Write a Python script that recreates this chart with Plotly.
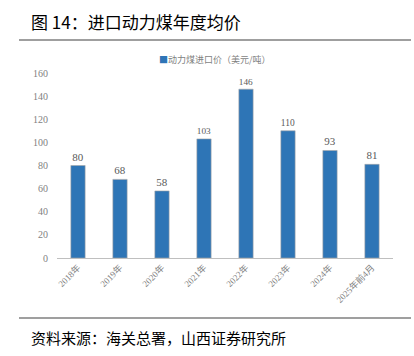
import plotly.graph_objects as go

categories = ["2018年", "2019年", "2020年", "2021年", "2022年", "2023年", "2024年", "2025年前4月"]
values = [80, 68, 58, 103, 146, 110, 93, 81]
series_name = "动力煤进口价（美元/吨）"
title_text = "图 14：进口动力煤年度均价"
source_text = "资料来源：海关总署，山西证券研究所"

W, H = 414, 356
L, R, T, B = 57, 393, 73, 258
BAR_COLOR = "#2E75B6"

def px(x):
    return (x - L) / (R - L)

def py(y):
    return (B - y) / (B - T)

fig = go.Figure()
fig.add_trace(go.Bar(
    x=categories, y=values, name=series_name,
    marker=dict(color=BAR_COLOR, line=dict(color="#A6A6A6", width=0.6)),
    text=[str(v) for v in values], textposition="outside",
    textfont=dict(family="Liberation Serif, serif", size=11, color="#595959"),
    cliponaxis=False,
))

fig.update_layout(
    width=W, height=H,
    margin=dict(l=L, r=W - R, t=T, b=H - B, autoexpand=False),
    paper_bgcolor="white", plot_bgcolor="white",
    bargap=0.66,
    showlegend=False,
    xaxis=dict(showline=True, linecolor="#BFBFBF", linewidth=1, ticks="", automargin=False,
               tickangle=-45, tickfont=dict(family="Liberation Serif, Noto Sans CJK SC", size=9, color="#7F7F7F"),
               showgrid=False, zeroline=False),
    yaxis=dict(range=[0, 160], dtick=20, showgrid=False, zeroline=False, showline=False, automargin=False,
               tickfont=dict(family="Liberation Serif, serif", size=10, color="#7F7F7F"),
               ticks="", ticklabelstandoff=8),
    font=dict(family="Noto Sans CJK SC"),
)

fig.add_annotation(text="<span style='color:%s'>■</span>%s" % (BAR_COLOR, series_name),
                   xref="paper", yref="paper", x=px(215), y=py(59),
                   xanchor="center", yanchor="middle", showarrow=False,
                   font=dict(family="Noto Sans CJK SC", size=9, color="#7F7F7F"))
fig.add_annotation(text=title_text, xref="paper", yref="paper", x=px(29), y=py(22),
                   xanchor="left", yanchor="middle", showarrow=False,
                   font=dict(family="Noto Sans CJK SC", size=17, color="#000000"))
fig.add_annotation(text=source_text, xref="paper", yref="paper", x=px(29), y=py(337),
                   xanchor="left", yanchor="middle", showarrow=False,
                   font=dict(family="Noto Sans CJK SC", size=15, color="#000000"))
for yy in (40, 318):
    fig.add_shape(type="line", xref="paper", yref="paper", x0=px(19), x1=px(411),
                  y0=py(yy), y1=py(yy), line=dict(color="#404040", width=1.2))

fig.write_html("out.html", config={"displayModeBar": False},
               post_script="document.body.style.margin='0';document.body.style.overflow='hidden';")
